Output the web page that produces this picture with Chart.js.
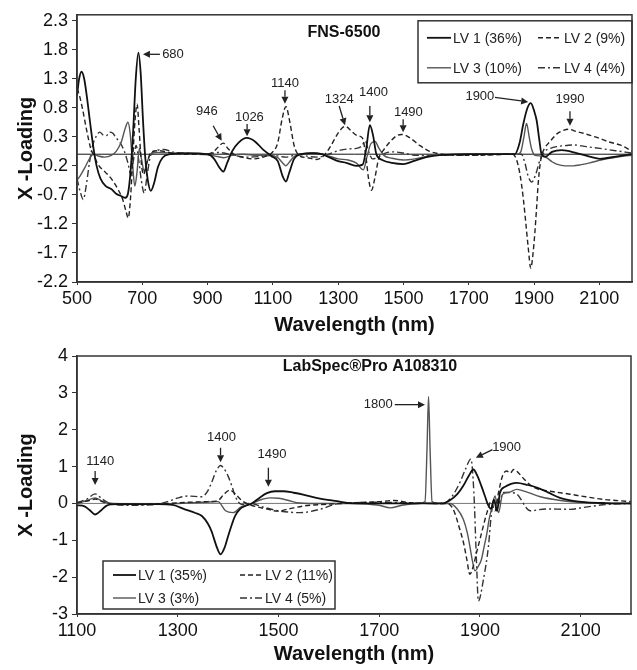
<!DOCTYPE html>
<html>
<head>
<meta charset="utf-8">
<script src="https://cdn.jsdelivr.net/npm/chart.js@4.4.0/dist/chart.umd.min.js"></script>
<style>
  body { margin: 0; background: #fff; }
  #wrap { position: relative; width: 637px; height: 670px; }
  canvas { position: absolute; left: 0; }
  #topChart { top: 0; }
  #bottomChart { top: 340px; }
</style>
</head>
<body>
<div id="wrap">
  <canvas id="topChart" width="637" height="340"></canvas>
  <canvas id="bottomChart" width="637" height="330"></canvas>
</div>
<script>
const FONT = "'Liberation Sans', Arial, sans-serif";

// ---------- top panel: FNS-6500 ----------
const topXTicks = [500, 700, 900, 1100, 1300, 1500, 1700, 1900, 2100];
const topYTicks = [-2.2, -1.7, -1.2, -0.7, -0.2, 0.3, 0.8, 1.3, 1.8, 2.3];
const topLabels = ['LV 1 (36%)', 'LV 2 (9%)', 'LV 3 (10%)', 'LV 4 (4%)'];

// [wavelength nm, loading]
const topLV1 = [[500,1.0],[506,1.28],[514,1.42],[522,1.3],[530,1.0],[540,0.55],[550,0.12],[560,-0.2],[572,-0.42],[588,-0.55],[605,-0.6],[620,-0.68],[635,-0.72],[648,-0.75],[656,-0.68],[664,-0.3],[672,0.4],[680,1.3],[688,1.75],[695,1.4],[702,0.6],[709,-0.05],[717,-0.45],[726,-0.63],[736,-0.5],[748,-0.22],[762,-0.06],[785,0.0],[840,0.02],[900,0.0],[920,-0.08],[935,-0.22],[948,-0.3],[960,-0.15],[975,0.05],[995,0.2],[1020,0.28],[1045,0.22],[1070,0.08],[1095,-0.03],[1115,-0.12],[1130,-0.38],[1140,-0.47],[1150,-0.32],[1165,-0.08],[1185,0.0],[1220,0.02],[1250,0.0],[1275,-0.06],[1300,-0.12],[1325,-0.15],[1355,-0.2],[1375,-0.18],[1386,0.1],[1397,0.5],[1407,0.32],[1417,0.0],[1435,-0.1],[1465,-0.15],[1500,-0.17],[1530,-0.12],[1570,-0.05],[1620,-0.01],[1700,0.0],[1780,0.0],[1841,0.0],[1856,0.2],[1867,0.52],[1880,0.8],[1890,0.88],[1900,0.75],[1908,0.58],[1916,0.25],[1923,0.0],[1935,-0.04],[1955,0.04],[1985,0.07],[2030,0.02],[2070,-0.04],[2102,-0.08],[2150,-0.04],[2200,0.0]];
const topLV2 = [[500,1.13],[508,1.0],[518,0.75],[530,0.4],[542,0.1],[550,0.0],[565,-0.18],[585,-0.3],[605,-0.42],[625,-0.6],[640,-0.78],[650,-0.98],[657,-1.1],[664,-0.75],[671,-0.05],[678,0.6],[684,0.86],[690,0.45],[697,-0.15],[704,-0.35],[714,-0.15],[728,0.04],[750,0.06],[780,0.03],[830,0.0],[890,0.0],[915,0.03],[932,0.12],[948,0.19],[962,0.1],[980,0.0],[1005,-0.05],[1040,-0.08],[1075,-0.04],[1098,0.03],[1115,0.2],[1128,0.6],[1140,0.82],[1152,0.55],[1165,0.15],[1180,-0.02],[1205,-0.06],[1234,-0.09],[1255,-0.03],[1275,0.12],[1295,0.32],[1312,0.45],[1322,0.48],[1340,0.4],[1358,0.32],[1374,0.28],[1384,0.0],[1393,-0.42],[1402,-0.62],[1412,-0.42],[1424,-0.08],[1440,0.08],[1460,0.22],[1480,0.32],[1495,0.34],[1520,0.28],[1550,0.15],[1580,0.05],[1620,0.0],[1700,-0.02],[1780,-0.01],[1835,0.0],[1846,-0.09],[1857,-0.35],[1867,-0.76],[1875,-1.2],[1882,-1.6],[1890,-1.96],[1897,-1.7],[1903,-1.31],[1908,-0.9],[1913,-0.48],[1918,-0.2],[1923,-0.03],[1932,0.1],[1949,0.22],[1970,0.35],[1990,0.41],[2005,0.43],[2030,0.39],[2051,0.36],[2080,0.31],[2102,0.27],[2130,0.21],[2163,0.16],[2185,0.1],[2200,0.05]];
const topLV3 = [[500,-0.45],[512,-0.35],[525,-0.22],[538,-0.08],[550,0.0],[565,-0.03],[585,-0.05],[605,-0.02],[620,0.05],[635,0.2],[648,0.45],[656,0.55],[663,0.35],[670,-0.15],[677,-0.55],[684,-0.3],[691,0.1],[698,-0.1],[706,-0.3],[714,-0.15],[725,0.0],[745,0.03],[790,0.02],[850,0.0],[900,-0.01],[930,-0.04],[950,-0.06],[975,-0.02],[1010,0.0],[1050,-0.02],[1090,-0.02],[1115,-0.06],[1130,-0.15],[1140,-0.2],[1150,-0.14],[1165,-0.04],[1190,0.0],[1230,0.02],[1270,-0.03],[1300,-0.08],[1330,-0.1],[1355,-0.15],[1377,-0.27],[1388,-0.05],[1400,0.18],[1413,0.22],[1425,0.1],[1440,-0.02],[1465,-0.07],[1500,-0.1],[1535,-0.08],[1570,-0.04],[1620,-0.01],[1700,0.0],[1800,0.0],[1850,0.0],[1860,0.05],[1869,0.3],[1877,0.53],[1885,0.3],[1893,0.08],[1903,-0.02],[1920,-0.03],[1938,-0.06],[1955,-0.13],[1969,-0.17],[1995,-0.2],[2020,-0.2],[2045,-0.18],[2071,-0.15],[2105,-0.1],[2143,-0.06],[2175,-0.03],[2200,-0.02]];
const topLV4 = [[500,-0.42],[510,-0.65],[519,-0.78],[528,-0.55],[538,-0.15],[548,0.15],[560,0.32],[570,0.38],[580,0.33],[590,0.32],[600,0.38],[610,0.36],[620,0.28],[632,0.2],[645,0.05],[656,-0.15],[665,-0.35],[673,-0.1],[681,0.15],[689,-0.1],[697,-0.45],[706,-0.67],[714,-0.4],[724,-0.05],[740,0.06],[765,0.08],[800,0.03],[850,0.01],[900,0.0],[930,0.03],[950,0.02],[980,-0.02],[1020,-0.05],[1060,-0.04],[1100,-0.02],[1140,-0.05],[1180,0.0],[1210,-0.04],[1240,-0.05],[1270,0.0],[1300,0.06],[1330,0.09],[1355,0.1],[1372,0.14],[1383,0.23],[1393,0.05],[1405,-0.08],[1420,-0.06],[1445,0.02],[1470,0.04],[1500,0.02],[1540,-0.02],[1600,-0.02],[1700,-0.02],[1800,0.0],[1861,0.0],[1872,-0.15],[1882,-0.38],[1893,-0.48],[1905,-0.35],[1918,-0.1],[1933,0.05],[1950,0.1],[1969,0.13],[2000,0.15],[2020,0.16],[2060,0.13],[2102,0.1],[2150,0.06],[2200,0.02]];

// peak labels: text, label centre, arrow tail, arrow tip (data units)
const topNotes = [
  { text: '680',  label: [794, 1.72],  from: [754, 1.72],  to: [702, 1.72] },
  { text: '946',  label: [898, 0.74],  from: [917, 0.49],  to: [943, 0.23] },
  { text: '1026', label: [1028, 0.63], from: [1021, 0.52], to: [1021, 0.31] },
  { text: '1140', label: [1137, 1.22], from: [1137, 1.1],  to: [1137, 0.87] },
  { text: '1324', label: [1303, 0.94], from: [1303, 0.83], to: [1321, 0.5] },
  { text: '1400', label: [1408, 1.07], from: [1397, 0.83], to: [1397, 0.55] },
  { text: '1490', label: [1515, 0.72], from: [1499, 0.6],  to: [1499, 0.38] },
  { text: '1900', label: [1734, 0.99], from: [1780, 0.98], to: [1882, 0.9] },
  { text: '1990', label: [2010, 0.95], from: [2010, 0.74], to: [2010, 0.49] }
];

// ---------- bottom panel: LabSpec Pro ----------
const botXTicks = [1100, 1300, 1500, 1700, 1900, 2100];
const botYTicks = [-3, -2, -1, 0, 1, 2, 3, 4];
const botLabels = ['LV 1 (35%)', 'LV 2 (11%)', 'LV 3 (3%)', 'LV 4 (5%)'];

const botLV1 = [[1100,-0.05],[1115,-0.08],[1125,-0.18],[1136,-0.3],[1147,-0.2],[1160,-0.05],[1180,-0.02],[1220,-0.02],[1260,-0.02],[1290,-0.04],[1314,-0.16],[1335,-0.26],[1348,-0.34],[1360,-0.55],[1367,-0.75],[1378,-1.2],[1385,-1.38],[1393,-1.2],[1400,-0.89],[1408,-0.55],[1414,-0.34],[1424,-0.15],[1434,-0.07],[1447,0.0],[1462,0.15],[1477,0.28],[1493,0.33],[1510,0.33],[1530,0.29],[1549,0.24],[1580,0.14],[1616,0.06],[1640,0.01],[1700,0.0],[1780,0.0],[1825,0.0],[1840,0.08],[1855,0.25],[1867,0.48],[1878,0.75],[1887,0.92],[1895,0.75],[1903,0.47],[1910,0.2],[1915,0.0],[1922,-0.15],[1928,0.1],[1934,-0.2],[1940,0.3],[1950,0.45],[1973,0.56],[1995,0.5],[2013,0.43],[2035,0.3],[2059,0.15],[2085,0.07],[2112,0.03],[2150,0.01],[2200,0.0]];
const botLV2 = [[1100,0.02],[1125,0.08],[1136,0.12],[1150,0.05],[1170,-0.02],[1220,-0.03],[1280,0.0],[1320,0.03],[1360,0.05],[1380,0.08],[1392,0.25],[1404,0.36],[1415,0.25],[1427,0.08],[1440,-0.02],[1460,-0.1],[1480,-0.16],[1497,-0.21],[1520,-0.15],[1550,-0.07],[1600,-0.02],[1700,0.05],[1730,0.08],[1760,0.02],[1800,0.0],[1835,0.0],[1847,-0.16],[1860,-0.7],[1868,-1.1],[1874,-1.52],[1880,-1.92],[1887,-1.7],[1893,-1.35],[1900,-0.98],[1907,-0.6],[1914,-0.25],[1922,0.05],[1930,-0.2],[1937,0.3],[1945,0.75],[1953,0.88],[1960,0.82],[1967,0.92],[1975,0.85],[1985,0.7],[2000,0.5],[2013,0.4],[2040,0.33],[2079,0.25],[2110,0.18],[2145,0.11],[2170,0.08],[2200,0.05]];
const botLV3 = [[1100,0.0],[1120,0.08],[1136,0.15],[1150,0.06],[1170,0.0],[1250,-0.02],[1300,0.0],[1350,0.03],[1380,0.05],[1395,-0.2],[1410,-0.25],[1425,-0.1],[1447,0.0],[1465,0.1],[1483,0.15],[1500,0.14],[1520,0.08],[1536,0.02],[1570,0.0],[1650,0.0],[1700,-0.05],[1722,-0.12],[1745,-0.05],[1780,0.0],[1791,0.05],[1795,1.5],[1798,2.9],[1801,1.5],[1805,0.05],[1815,0.0],[1840,0.0],[1855,-0.15],[1867,-0.43],[1875,-0.8],[1880,-1.16],[1885,-1.55],[1890,-1.83],[1897,-1.7],[1903,-1.52],[1908,-1.2],[1914,-0.8],[1918,-0.45],[1923,-0.16],[1930,0.2],[1937,-0.25],[1945,0.25],[1958,0.3],[1973,0.38],[1995,0.3],[2020,0.18],[2060,0.08],[2100,0.03],[2150,0.0],[2200,0.0]];
const botLV4 = [[1100,0.02],[1120,0.12],[1136,0.26],[1150,0.12],[1165,0.0],[1200,-0.05],[1250,-0.04],[1280,0.05],[1301,0.15],[1320,0.2],[1348,0.18],[1360,0.35],[1367,0.56],[1377,0.9],[1385,1.03],[1393,0.92],[1400,0.74],[1408,0.45],[1414,0.2],[1427,-0.03],[1445,0.0],[1470,-0.1],[1500,-0.2],[1543,-0.25],[1582,-0.16],[1622,0.0],[1700,0.03],[1800,0.0],[1827,0.0],[1845,0.2],[1860,0.56],[1872,0.95],[1882,1.21],[1888,0.3],[1893,-1.5],[1897,-2.65],[1907,-2.06],[1917,-1.16],[1923,-0.25],[1930,0.1],[1937,0.0],[1947,0.3],[1970,0.28],[2000,-0.2],[2030,-0.15],[2079,-0.16],[2110,-0.1],[2150,-0.03],[2200,0.0]];

const botNotes = [
  { text: '1140', label: [1146, 1.15], from: [1136, 0.88], to: [1136, 0.5] },
  { text: '1400', label: [1387, 1.78], from: [1385, 1.51], to: [1385, 1.12] },
  { text: '1490', label: [1487, 1.33], from: [1480, 0.97], to: [1480, 0.45] },
  { text: '1800', label: [1698, 2.68], from: [1731, 2.68], to: [1791, 2.68] },
  { text: '1900', label: [1953, 1.51], from: [1925, 1.46], to: [1892, 1.24] }
];

// LV1 solid, LV2 dashed, LV3 light solid, LV4 dash-dot
const lineStyles = [
  { color: '#111', width: 1.8, dash: [] },
  { color: '#222', width: 1.4, dash: [5, 3] },
  { color: '#555', width: 1.4, dash: [] },
  { color: '#333', width: 1.4, dash: [7, 3, 2, 3] }
];

function toPoints(pairs) {
  return pairs.map(p => ({ x: p[0], y: p[1] }));
}

function drawArrow(ctx, x1, y1, x2, y2) {
  const ang = Math.atan2(y2 - y1, x2 - x1);
  const len = 7, half = 3.5;
  const bx = x2 - len * Math.cos(ang), by = y2 - len * Math.sin(ang);
  ctx.beginPath();
  ctx.moveTo(x1, y1);
  ctx.lineTo(bx, by);
  ctx.stroke();
  ctx.beginPath();
  ctx.moveTo(x2, y2);
  ctx.lineTo(bx - half * Math.sin(ang), by + half * Math.cos(ang));
  ctx.lineTo(bx + half * Math.sin(ang), by - half * Math.cos(ang));
  ctx.closePath();
  ctx.fill();
}

function buildChart(canvasId, cfg) {
  const decor = {
    id: 'decor',
    beforeDatasetsDraw(chart) {
      const { ctx, chartArea: a, scales: { y } } = chart;
      const y0 = y.getPixelForValue(0);
      ctx.save();
      ctx.strokeStyle = cfg.zeroColor;
      ctx.lineWidth = 1;
      ctx.beginPath();
      ctx.moveTo(a.left, y0);
      ctx.lineTo(a.right, y0);
      ctx.stroke();
      ctx.restore();
    },
    afterDatasetsDraw(chart) {
      const { ctx, chartArea: a, scales: { x, y } } = chart;
      ctx.save();

      // peak annotations
      ctx.fillStyle = '#222';
      ctx.strokeStyle = '#222';
      ctx.lineWidth = 1.3;
      ctx.font = '13px ' + FONT;
      ctx.textAlign = 'center';
      ctx.textBaseline = 'middle';
      cfg.notes.forEach(n => {
        ctx.fillText(n.text, x.getPixelForValue(n.label[0]), y.getPixelForValue(n.label[1]));
        drawArrow(ctx,
          x.getPixelForValue(n.from[0]), y.getPixelForValue(n.from[1]),
          x.getPixelForValue(n.to[0]), y.getPixelForValue(n.to[1]));
      });

      // panel name
      ctx.font = 'bold 16px ' + FONT;
      ctx.fillStyle = '#111';
      ctx.fillText(cfg.name, a.left + cfg.nameAt[0], a.top + cfg.nameAt[1]);

      // legend box
      const L = cfg.legend;
      const bx = L.fromRight ? a.right - L.w : a.left + L.dx;
      const by = L.fromBottom ? a.bottom - L.dy - L.h : a.top + L.dy;
      ctx.fillStyle = '#fff';
      ctx.fillRect(bx, by, L.w, L.h);
      ctx.strokeStyle = '#333';
      ctx.lineWidth = 1.5;
      ctx.strokeRect(bx, by, L.w, L.h);
      ctx.font = '14px ' + FONT;
      ctx.textAlign = 'left';
      cfg.labels.forEach((lab, i) => {
        const col = i % 2, row = Math.floor(i / 2);
        const lx = bx + L.cols[col], ly = by + L.rows[row];
        const st = lineStyles[i];
        ctx.strokeStyle = st.color;
        ctx.lineWidth = st.width;
        ctx.setLineDash(st.dash);
        ctx.beginPath();
        ctx.moveTo(lx, ly);
        ctx.lineTo(lx + L.lineLen, ly);
        ctx.stroke();
        ctx.setLineDash([]);
        ctx.fillStyle = '#222';
        ctx.fillText(lab, lx + L.lineLen + 2, ly + 1);
      });

      // plot frame
      ctx.strokeStyle = '#333';
      ctx.lineWidth = 1.5;
      ctx.strokeRect(a.left, a.top, a.right - a.left, a.bottom - a.top);
      ctx.restore();
    }
  };

  const datasets = cfg.series.map((s, i) => ({
    label: cfg.labels[i],
    data: toPoints(s),
    showLine: true,
    borderColor: lineStyles[i].color,
    borderWidth: lineStyles[i].width,
    borderDash: lineStyles[i].dash,
    pointRadius: 0,
    cubicInterpolationMode: 'monotone',
    fill: false
  }));

  return new Chart(document.getElementById(canvasId), {
    type: 'scatter',
    data: { datasets },
    plugins: [decor],
    options: {
      responsive: false,
      animation: false,
      layout: { padding: cfg.padding },
      plugins: { legend: { display: false }, tooltip: { enabled: false } },
      scales: {
        x: {
          type: 'linear',
          min: cfg.xMin, max: cfg.xMax,
          afterBuildTicks: s => { s.ticks = cfg.xTicks.map(v => ({ value: v })); },
          afterFit: s => { s.height = cfg.xHeight; },
          ticks: { font: { family: FONT, size: 18 }, color: '#111', padding: 3, maxRotation: 0, autoSkip: false,
                   callback: v => String(v) },
          grid: { display: true, drawOnChartArea: false, drawTicks: true, tickLength: 3, color: '#333' },
          border: { display: true, color: '#333', width: 1.5 },
          title: { display: true, text: 'Wavelength (nm)', color: '#111',
                   font: { family: FONT, size: 20, weight: 'bold' }, padding: { top: 0, bottom: cfg.xTitlePad } }
        },
        y: {
          min: cfg.yMin, max: cfg.yMax,
          afterBuildTicks: s => { s.ticks = cfg.yTicks.map(v => ({ value: v })); },
          afterFit: s => { s.width = 77; },
          ticks: { font: { family: FONT, size: 18 }, color: '#111', padding: 4, callback: v => String(v) },
          grid: { display: true, drawOnChartArea: false, drawTicks: true, tickLength: 5, color: '#333' },
          border: { display: true, color: '#333', width: 1.5 },
          title: { display: true, text: 'X -Loading', color: '#111',
                   font: { family: FONT, size: 20, weight: 'bold' }, padding: { top: 14, bottom: 0 } }
        }
      }
    }
  });
}

buildChart('topChart', {
  series: [topLV1, topLV2, topLV3, topLV4],
  labels: topLabels,
  notes: topNotes,
  xTicks: topXTicks, yTicks: topYTicks,
  xMin: 500, xMax: 2200, yMin: -2.2, yMax: 2.4,
  padding: { top: 9, right: 5, left: 0, bottom: 0 },
  xHeight: 58, xTitlePad: 3,
  zeroColor: '#111',
  name: 'FNS-6500', nameAt: [267, 18],
  legend: { fromRight: true, dy: 6, w: 214, h: 62, rows: [17, 47], cols: [9, 120], lineLen: 24 }
});

buildChart('bottomChart', {
  series: [botLV1, botLV2, botLV3, botLV4],
  labels: botLabels,
  notes: botNotes,
  xTicks: botXTicks, yTicks: botYTicks,
  xMin: 1100, xMax: 2200, yMin: -3, yMax: 4,
  padding: { top: 16, right: 6, left: 0, bottom: 0 },
  xHeight: 56, xTitlePad: 4,
  zeroColor: '#777',
  name: 'LabSpec\u00AEPro A108310', nameAt: [293, 11],
  legend: { fromBottom: true, dx: 26, dy: 5, w: 232, h: 48, rows: [14, 37], cols: [10, 137], lineLen: 23 }
});
</script>
</body>
</html>
